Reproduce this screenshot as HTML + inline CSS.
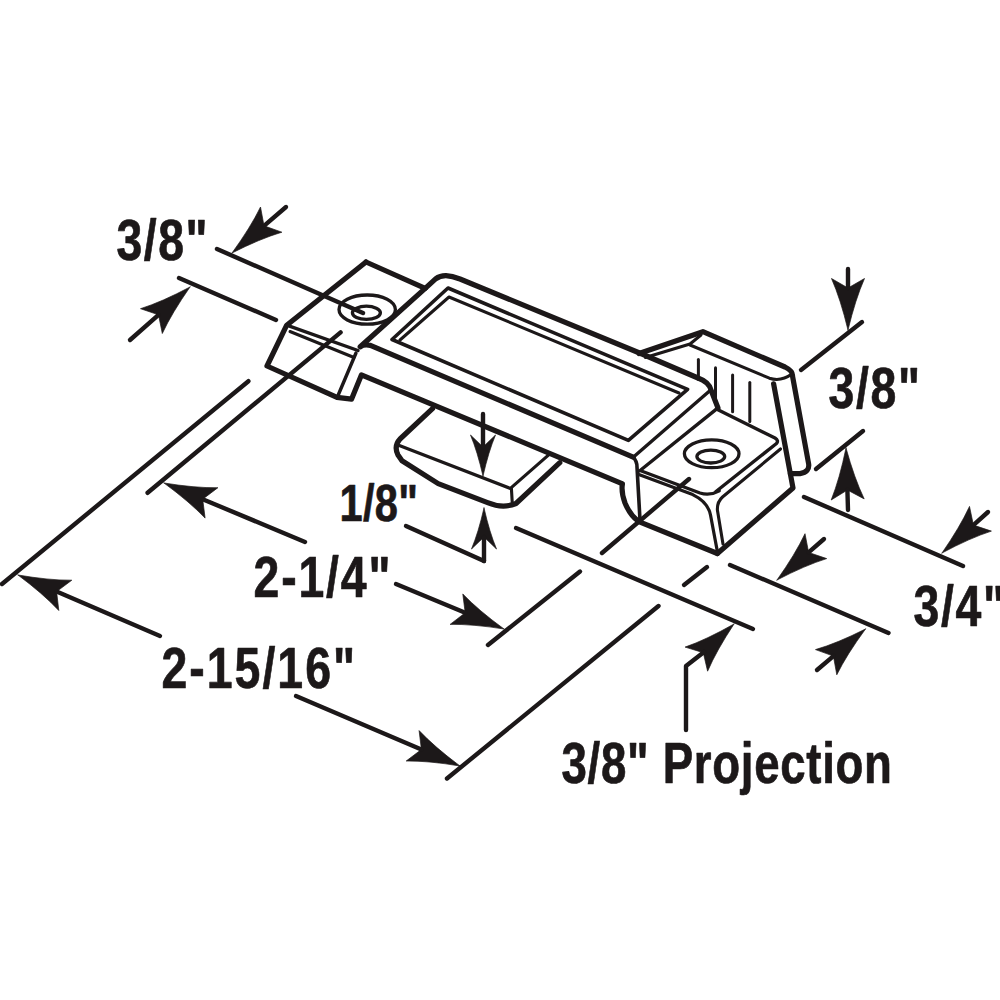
<!DOCTYPE html>
<html><head><meta charset="utf-8"><style>
html,body{margin:0;padding:0;background:#fff;}
svg{display:block;}
text{font-family:"Liberation Sans",sans-serif;font-weight:bold;fill:#1c1819;stroke:#1c1819;stroke-width:0.7px;}
</style></head><body>
<svg width="1000" height="1000" viewBox="0 0 1000 1000">
<g fill="none" stroke="#1c1819" stroke-linecap="round" stroke-linejoin="round">
<text transform="translate(116.5 260) scale(0.8 1)" x="0" y="0" font-size="58" textLength="113.8" lengthAdjust="spacing">3/8"</text>
<text transform="translate(828.5 408) scale(0.8 1)" x="0" y="0" font-size="58" textLength="114.4" lengthAdjust="spacing">3/8"</text>
<text transform="translate(339.5 521) scale(0.8 1)" x="0" y="0" font-size="52" textLength="98.1" lengthAdjust="spacing">1/8"</text>
<text transform="translate(253.5 597) scale(0.8 1)" x="0" y="0" font-size="58" textLength="171.2" lengthAdjust="spacing">2-1/4"</text>
<text transform="translate(161.5 688) scale(0.8 1)" x="0" y="0" font-size="58" textLength="241.9" lengthAdjust="spacing">2-15/16"</text>
<text transform="translate(913.5 626) scale(0.8 1)" x="0" y="0" font-size="58" textLength="114.4" lengthAdjust="spacing">3/4"</text>
<text transform="translate(561.5 783) scale(0.8 1)" x="0" y="0" font-size="57" textLength="413.1" lengthAdjust="spacing">3/8" Projection</text>
<path class="f" d="M232.0,253.0 Q260.3,238.6 281.9,232.2 L264.0,225.8 L260.5,207.0 Q250.7,227.3 232.0,253.0 Z"/>
<line x1="264.0" y1="225.8" x2="286" y2="207" stroke-width="4.4"/>
<line x1="217" y1="249" x2="363" y2="313" stroke-width="4.4"/>
<line x1="179" y1="278" x2="276" y2="320" stroke-width="4.4"/>
<path class="f" d="M190.0,287.0 Q161.9,301.9 140.5,308.7 L158.5,314.8 L162.3,333.5 Q171.8,313.0 190.0,287.0 Z"/>
<line x1="158.5" y1="314.8" x2="130" y2="340" stroke-width="4.4"/>
<path class="f" d="M848.0,330.0 Q855.4,299.1 864.5,278.5 L848.0,288.0 L831.5,278.5 Q840.6,299.1 848.0,330.0 Z"/>
<line x1="848.0" y1="288.0" x2="848" y2="269" stroke-width="4.4"/>
<line x1="862" y1="322" x2="801" y2="370" stroke-width="4.4"/>
<line x1="863" y1="431" x2="816" y2="469" stroke-width="4.4"/>
<path class="f" d="M846.0,448.0 Q839.6,479.1 831.2,500.0 L847.4,490.0 L864.2,498.9 Q854.4,478.6 846.0,448.0 Z"/>
<line x1="847.4" y1="490.0" x2="848" y2="510" stroke-width="4.4"/>
<line x1="804" y1="497" x2="963" y2="566" stroke-width="4.4"/>
<path class="f" d="M942.0,553.0 Q970.0,538.0 991.4,531.1 L973.4,525.1 L969.5,506.4 Q960.1,526.9 942.0,553.0 Z"/>
<line x1="973.4" y1="525.1" x2="988" y2="512" stroke-width="4.4"/>
<path class="f" d="M777.0,580.0 Q805.2,565.3 826.7,558.6 L808.6,552.4 L805.0,533.7 Q795.4,554.1 777.0,580.0 Z"/>
<line x1="808.6" y1="552.4" x2="824" y2="539" stroke-width="4.4"/>
<line x1="730" y1="565" x2="888.5" y2="633" stroke-width="4.4"/>
<path class="f" d="M865.5,629.0 Q837.1,643.3 815.5,649.6 L833.4,656.1 L836.8,674.8 Q846.7,654.6 865.5,629.0 Z"/>
<line x1="833.4" y1="656.1" x2="817" y2="670" stroke-width="4.4"/>
<line x1="516" y1="528" x2="753" y2="629" stroke-width="4.4"/>
<line x1="684" y1="585" x2="707" y2="567" stroke-width="4.4"/>
<path class="f" d="M734.0,624.0 Q706.3,639.7 685.1,647.1 L703.3,652.7 L707.6,671.2 Q716.5,650.5 734.0,624.0 Z"/>
<line x1="703.3" y1="652.7" x2="704" y2="652" stroke-width="4.4"/>
<polyline points="704,652 686,666 686,730" stroke-width="4.4"/>
<line x1="689" y1="479" x2="602" y2="553" stroke-width="4.4"/>
<line x1="580" y1="571.5" x2="488" y2="645" stroke-width="4.4"/>
<line x1="658.5" y1="606" x2="447" y2="778.5" stroke-width="4.4"/>
<path class="f" d="M460.0,766.0 Q434.5,747.0 419.1,730.6 L421.4,749.5 L406.2,761.0 Q428.7,760.7 460.0,766.0 Z"/>
<line x1="421.4" y1="749.5" x2="296" y2="696" stroke-width="4.4"/>
<path class="f" d="M18.0,575.0 Q43.5,594.0 58.8,610.5 L56.6,591.6 L71.8,580.2 Q49.3,580.4 18.0,575.0 Z"/>
<line x1="56.6" y1="591.6" x2="160" y2="636" stroke-width="4.4"/>
<line x1="248.4" y1="381.2" x2="2" y2="584" stroke-width="4.4"/>
<line x1="340.6" y1="332.4" x2="147.6" y2="492.8" stroke-width="4.4"/>
<path class="f" d="M164.0,483.0 Q189.6,501.8 205.1,518.1 L202.7,499.2 L217.9,487.7 Q195.4,488.1 164.0,483.0 Z"/>
<line x1="202.7" y1="499.2" x2="305" y2="542" stroke-width="4.4"/>
<path class="f" d="M504.0,629.0 Q478.3,610.3 462.8,594.0 L465.2,612.8 L450.1,624.4 Q472.6,624.0 504.0,629.0 Z"/>
<line x1="465.2" y1="612.8" x2="396" y2="584" stroke-width="4.4"/>
<path class="f" d="M483.0,476.0 Q488.6,451.4 495.5,435.0 L483.0,447.0 L470.5,435.0 Q477.4,451.4 483.0,476.0 Z"/>
<line x1="483.0" y1="447.0" x2="483" y2="414" stroke-width="4.4"/>
<path class="f" d="M484.0,508.0 Q478.4,532.6 471.5,549.0 L484.0,537.0 L496.5,549.0 Q489.6,532.6 484.0,508.0 Z"/>
<line x1="484.0" y1="537.0" x2="484" y2="561" stroke-width="4.4"/>
<polyline points="406,526 484,561" stroke-width="4.4"/>
<polyline points="366,262 286.7,325.2 267,366 337,397.4 351.5,399.2 361.4,374.9 622,483.6" stroke-width="5.2"/>
<path d="M622.4,484 Q621,492 625,503 Q630,515 638,521" stroke-width="5.2"/>
<path d="M366,262 L425.2,288.4 L435.6,278.8 Q440,275.5 446,275.6 Q452,276 460,279 L642,354 L698,378 Q709,382 711,390 L718,408" stroke-width="5.2"/>
<line x1="286.7" y1="325.2" x2="358" y2="350.5" stroke-width="3.4"/>
<line x1="290" y1="331.5" x2="354" y2="357.5" stroke-width="3.0"/>
<path d="M356,353 Q348,372 338,395.5" stroke-width="3.4"/>
<path d="M425.2,288.4 L360.2,346.8 Q364,344 370.4,345.4 L633.2,457.2" stroke-width="5.2"/>
<line x1="633.2" y1="457.2" x2="709.5" y2="391" stroke-width="3.4"/>
<path d="M633.2,457.2 Q637,461 637,467 L640,520" stroke-width="3.6"/>
<ellipse cx="367.2" cy="309.6" rx="28.2" ry="14.6" stroke-width="3.3" transform="rotate(0 367.2 309.6)"/>
<ellipse cx="366.4" cy="312.8" rx="14" ry="6.6" stroke-width="3.3" transform="rotate(0 366.4 312.8)"/>
<polygon points="448,288 687.6,389.3 628.4,440.4 392,339.5" stroke-width="3.6"/>
<polyline points="400,340 449,297 679,393" stroke-width="3.0"/>
<path d="M639,353.5 L702.9,331.7 L785,367 Q793,371 792.5,376 L808.6,463.6 Q810,472 800,473.6 L790.4,473.6" stroke-width="5.2"/>
<path d="M645.4,357.5 L690,344 L701,335" stroke-width="3.0"/>
<path d="M690,345 L769.4,378.2 Q781,382 791.8,374" stroke-width="3.0"/>
<path d="M773.6,383.8 L793,488 L717.4,553.5" stroke-width="5.2"/>
<line x1="698.4" y1="359.6" x2="698.4" y2="379.4" stroke-width="3.0"/>
<line x1="715.5" y1="367.7" x2="715.5" y2="400" stroke-width="3.0"/>
<line x1="732.6" y1="374.9" x2="732.6" y2="411.8" stroke-width="3.0"/>
<line x1="749.8" y1="382.4" x2="749.8" y2="421.6" stroke-width="3.0"/>
<path d="M716.4,409.1 L775,438 Q779,440.5 776.5,443.5 L716,491.5" stroke-width="3.4"/>
<path d="M780.5,449 L722.5,497 Q717,502 717.4,510 L723,544" stroke-width="3.1"/>
<path d="M641.4,470.9 L700,493 Q710,496 719.3,490.8" stroke-width="3.2"/>
<path d="M639.5,474.7 L692.7,494.6 Q708,502 710.5,515 L717.4,551.6" stroke-width="3.2"/>
<polyline points="637.6,521.2 717.4,553.5" stroke-width="5.2"/>
<line x1="716.4" y1="409.1" x2="639.5" y2="471" stroke-width="3.4"/>
<ellipse cx="711.7" cy="453.8" rx="27.3" ry="13.9" stroke-width="3.3" transform="rotate(0 711.7 453.8)"/>
<ellipse cx="710.8" cy="456.6" rx="13.9" ry="6.4" stroke-width="3.3" transform="rotate(0 710.8 456.6)"/>
<path d="M432.5,408.6 L400,439 Q393.5,446 398,455 L402,460.8 L438.2,483.6 L487.6,502.6 Q502.8,509 516,503.5 L559.8,462.7" stroke-width="5.2"/>
<path d="M399.3,445.6 Q445,463 510.4,488.4 L548.4,455.1" stroke-width="3.2"/>
<line x1="511.4" y1="488.4" x2="512.3" y2="503.5" stroke-width="3.1"/>
</g>
<style>.f{fill:#1c1819;stroke:#1c1819;stroke-width:0.7px;}</style>
</svg>
</body></html>
